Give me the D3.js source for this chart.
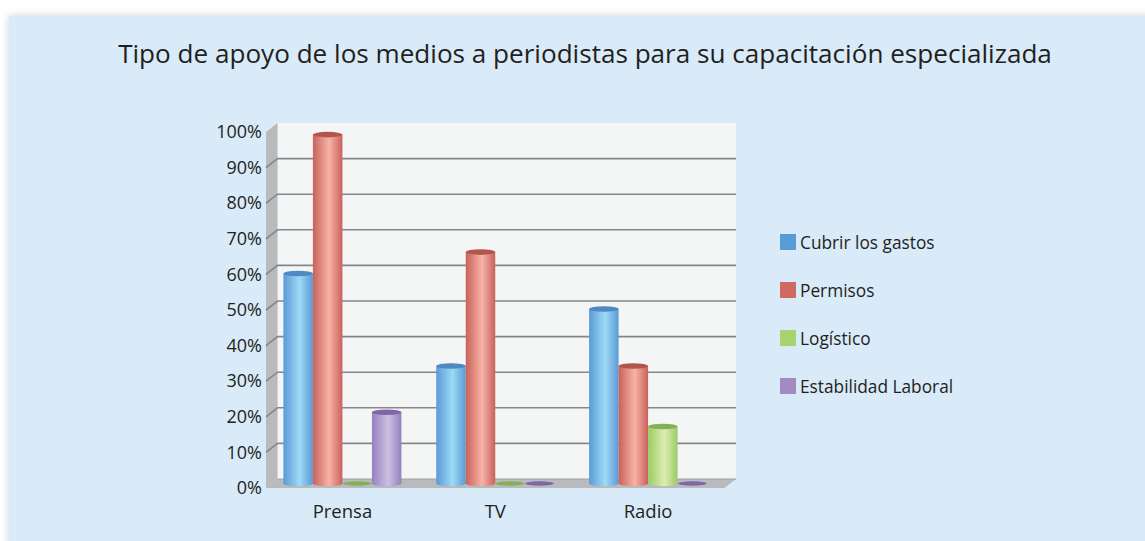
<!DOCTYPE html>
<html>
<head>
<meta charset="utf-8">
<script src="https://cdn.jsdelivr.net/npm/d3@7"></script>
<style>
  body { margin: 0; background: #fff; }
  svg { display: block; font-family: "Open Sans", sans-serif; }
</style>
</head>
<body>
<script>
// datos
var categorias = ["Prensa", "TV", "Radio"];
var series = ["Cubrir los gastos", "Permisos", "Logístico", "Estabilidad Laboral"];
var valPrensa = [59, 98, 0, 20];
var valTV = [33, 65, 0, 0];
var valRadio = [49, 33, 16, 0];
var ticksY = [0, 10, 20, 30, 40, 50, 60, 70, 80, 90, 100];
var titulo = "Tipo de apoyo de los medios a periodistas para su capacitación especializada";

var valores = [valPrensa, valTV, valRadio];

// colores: borde, brillo, tapa, leyenda
var colores = [
    {edge: "#5a9ad6", light: "#9ddaf5", top: "#4f89c2", leg: "#5b9bd5"},
    {edge: "#c8625b", light: "#f8b3a7", top: "#b3554f", leg: "#ce6960"},
    {edge: "#9bcb64", light: "#dcedb1", top: "#86b055", leg: "#a7d270"},
    {edge: "#9580bd", light: "#cbc1e2", top: "#7f66ab", leg: "#a08bc3"}
];

var _width = 1145, _height = 541;
var dx = 11.5, dy = -9; // profundidad 3D

var svg = d3.select("body").append("svg")
    .attr("width", _width)
    .attr("height", _height);

var defs = svg.append("defs");

defs.append("filter").attr("id", "sombra")
    .attr("x", "-5%").attr("y", "-5%").attr("width", "110%").attr("height", "110%")
    .append("feDropShadow")
    .attr("dx", 0).attr("dy", 0)
    .attr("stdDeviation", 4)
    .attr("flood-color", "#000")
    .attr("flood-opacity", 0.18);

colores.forEach(function (c, i) {
    var g = defs.append("linearGradient")
        .attr("id", "cil" + i)
        .attr("x1", 0).attr("x2", 1).attr("y1", 0).attr("y2", 0);
    g.append("stop").attr("offset", "0%").attr("stop-color", c.edge);
    g.append("stop").attr("offset", "55%").attr("stop-color", c.light);
    g.append("stop").attr("offset", "100%").attr("stop-color", c.edge);
});

// panel de fondo
svg.append("rect")
    .attr("x", 9).attr("y", 16)
    .attr("width", _width).attr("height", _height)
    .attr("fill", "#d9eaf9")
    .attr("filter", "url(#sombra)");

// titulo
var tt = svg.append("text")
    .attr("x", 585).attr("y", 63)
    .attr("text-anchor", "middle")
    .attr("font-size", 26)
    .attr("fill", "#231f20")
    .text(titulo);
var tw = tt.node().getComputedTextLength();
tt.attr("font-size", 26 * 934 / tw);

// escalas
var x0 = 266, x1 = 724.5;
var y = d3.scaleLinear().domain([0, 100]).range([488, 132]);
var x = d3.scaleBand().domain(categorias).range([x0, x1]);
var xs = d3.scaleBand().domain(series).range([-59, 59]);

// paredes
svg.append("rect")
    .attr("x", x0 + dx).attr("y", y(100) + dy)
    .attr("width", x1 - x0).attr("height", y(0) - y(100))
    .attr("fill", "#f4f6f6");

svg.append("path")
    .attr("d", "M" + x0 + "," + y(100) + "L" + (x0 + dx) + "," + (y(100) + dy) +
        "L" + (x0 + dx) + "," + (y(0) + dy) + "L" + x0 + "," + y(0) + "Z")
    .attr("fill", "#b9babe");

svg.append("path")
    .attr("d", "M" + x0 + "," + y(0) + "L" + (x0 + dx) + "," + (y(0) + dy) +
        "L" + (x1 + dx) + "," + (y(0) + dy) + "L" + x1 + "," + y(0) + "Z")
    .attr("fill", "#b9babe");

// lineas de cuadricula
var grid = svg.append("g").attr("class", "grid");
grid.selectAll("path")
    .data(ticksY.filter(function (d) { return d > 0 && d < 100; }))
    .enter().append("path")
    .attr("d", function (d) {
        return "M" + x0 + "," + y(d) + "L" + (x0 + dx) + "," + (y(d) + dy) +
            "L" + (x1 + dx) + "," + (y(d) + dy);
    })
    .attr("fill", "none")
    .attr("stroke", "#85868a")
    .attr("stroke-width", 1.6);

grid.append("line")
    .attr("x1", x0 + dx).attr("x2", x1 + dx)
    .attr("y1", y(0) + dy).attr("y2", y(0) + dy)
    .attr("stroke", "#a0a1a5").attr("stroke-width", 1);

// barras cilindricas
var barData = [];
categorias.forEach(function (cat, ci) {
    series.forEach(function (s, si) {
        barData.push({cat: cat, serie: s, si: si, v: valores[ci][si]});
    });
});

var base = y(0) + dy / 2;
var ry = 2.8;

var bars = svg.append("g").attr("class", "bars")
    .selectAll("g").data(barData).enter().append("g");

bars.each(function (d) {
    var g = d3.select(this);
    var bx = x(d.cat) + x.bandwidth() / 2 + xs(d.serie);
    var bw = xs.bandwidth();
    var rx = bw / 2;
    var top = y(d.v) + dy / 2;
    var c = colores[d.si];
    if (d.v <= 0) {
        g.append("ellipse")
            .attr("cx", bx + rx).attr("cy", base)
            .attr("rx", rx - 0.5).attr("ry", 2.2)
            .attr("fill", c.top);
        return;
    }
    g.append("path")
        .attr("d", "M" + bx + "," + top +
            "L" + bx + "," + base +
            "A" + rx + "," + ry + " 0 0 0 " + (bx + bw) + "," + base +
            "L" + (bx + bw) + "," + top + "Z")
        .attr("fill", "url(#cil" + d.si + ")");
    g.append("ellipse")
        .attr("cx", bx + rx).attr("cy", top)
        .attr("rx", rx).attr("ry", ry)
        .attr("fill", c.top);
});

// eje y
var yAxis = d3.axisLeft(y)
    .tickValues(ticksY)
    .tickSize(0)
    .tickPadding(4)
    .tickFormat(function (d) { return d + "%"; });

svg.append("g")
    .attr("class", "y axis")
    .attr("transform", "translate(" + x0 + ",0)")
    .call(yAxis)
    .call(function (g) { g.select(".domain").remove(); })
    .selectAll("text")
    .attr("font-family", "Open Sans, sans-serif")
    .attr("font-size", 18)
    .attr("fill", "#231f20");

// eje x
var xAxis = d3.axisBottom(x).tickSize(0).tickPadding(0);
svg.append("g")
    .attr("class", "x axis")
    .attr("transform", "translate(0,505)")
    .call(xAxis)
    .call(function (g) { g.select(".domain").remove(); })
    .selectAll("text")
    .attr("font-family", "Open Sans, sans-serif")
    .attr("font-size", 18.5)
    .attr("fill", "#231f20");

// leyenda
var leg = svg.append("g").attr("class", "legend")
    .selectAll("g").data(series).enter().append("g")
    .attr("transform", function (d, i) { return "translate(780," + (234 + i * 48) + ")"; });

leg.append("rect")
    .attr("width", 16).attr("height", 16)
    .attr("fill", function (d, i) { return colores[i].leg; });

leg.append("text")
    .attr("x", 20).attr("y", 15)
    .attr("font-size", 17.3)
    .attr("fill", "#231f20")
    .text(function (d) { return d; });
</script>
</body>
</html>
